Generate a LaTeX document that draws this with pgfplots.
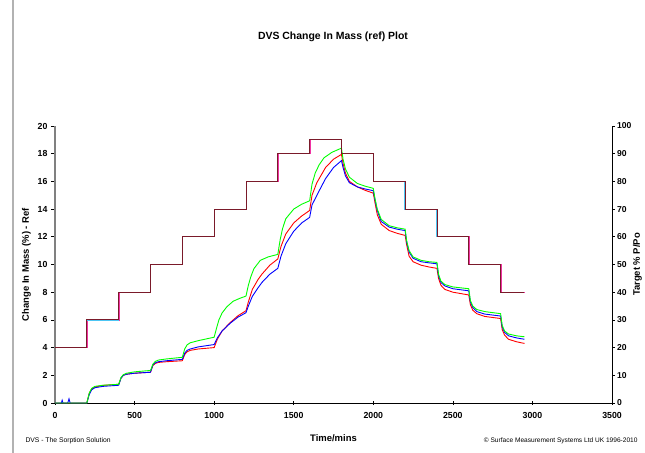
\documentclass[border=0pt]{standalone}
\usepackage{fontspec}
\setmainfont{Liberation Sans}
\usepackage{pgfplots}
\pgfplotsset{compat=1.18}
\definecolor{tgtdark}{HTML}{7A1A2A}
\definecolor{lgreen}{HTML}{00FF00}
\begin{document}
\begin{tikzpicture}[x=1bp,y=1bp]
\useasboundingbox (0,0) rectangle (645,453);
\draw[gray!60, line width=1.2bp] (13,0) -- (13,453);
\node[font=\bfseries\fontsize{10.5}{12}\selectfont] at (333,416) {DVS Change In Mass (ref) Plot};
\node[font=\fontsize{6.8}{8}\selectfont, anchor=west] at (22,12) {DVS - The Sorption Solution};
\node[font=\fontsize{6.6}{8}\selectfont, anchor=east] at (641,12) {\textcopyright{} Surface Measurement Systems Ltd UK 1996-2010};
\begin{axis}[
  at={(55bp,50bp)}, anchor=south west,
  scale only axis, width=557bp, height=277bp,
  xmin=0, xmax=3500, ymin=0, ymax=20,
  xtick={0,500,...,3500}, ytick={0,2,...,20},
  axis x line*=bottom, axis y line*=left,
  x axis line style={black, -, line width=0.8bp},
  y axis line style={gray, -, line width=1.6bp},
  tick style={black, line width=0.6bp},
  xtick align=center, ytick align=outside,
  major tick length=4bp,
  tick label style={font=\bfseries\fontsize{8.8}{10}\selectfont},
  xticklabel style={yshift=-4bp},
  /pgf/number format/assume math mode=true,
  /pgf/number format/1000 sep={},
  xlabel={\bfseries Time/mins},
  xlabel style={font=\fontsize{9.5}{11}\selectfont, at={(axis description cs:0.5,0)}, anchor=center, yshift=-35bp},
  ylabel={\bfseries Change In Mass (\%) - Ref},
  ylabel style={font=\fontsize{9.5}{11}\selectfont},
  clip=false,
]
\addplot[red, line width=0.9bp] coordinates {
(0,0)(200,0)(215,0.7)(230,1.0)(250,1.15)(300,1.27)(400,1.35)
(415,1.8)(430,2.0)(450,2.08)(500,2.15)(600,2.22)
(615,2.7)(630,2.85)(650,2.93)(700,2.98)(800,3.05)
(815,3.5)(830,3.7)(850,3.8)(900,3.9)(1000,4.0)
(1020,4.6)(1050,5.2)(1100,5.8)(1150,6.3)(1200,6.66)
(1215,7.3)(1240,8.2)(1275,8.9)(1300,9.3)(1350,9.95)(1400,10.4)
(1420,11.3)(1450,12.2)(1500,13.0)(1550,13.5)(1600,13.9)
(1615,15.0)(1645,15.9)(1700,17.0)(1750,17.6)(1800,17.95)
(1810,17.3)(1825,16.6)(1850,16.0)(1900,15.6)(1950,15.35)(2000,15.15)
(2010,14.5)(2025,13.6)(2050,12.9)(2100,12.45)(2150,12.25)(2200,12.1)
(2210,11.4)(2225,10.6)(2250,10.2)(2300,9.95)(2350,9.82)(2400,9.72)
(2410,9.0)(2425,8.5)(2450,8.2)(2500,8.0)(2600,7.8)
(2610,7.1)(2625,6.7)(2650,6.45)(2700,6.25)(2800,6.1)
(2810,5.3)(2825,4.9)(2850,4.6)(2900,4.42)(2950,4.3)
};
\addplot[blue, line width=0.9bp] coordinates {
(0,0)(40,0)(45,0.2)(50,0)(80,0)(88,0.3)(95,0)(200,0)
(215,0.6)(230,0.95)(250,1.1)(300,1.2)(400,1.28)
(415,1.8)(430,2.0)(450,2.08)(500,2.15)(600,2.22)
(615,2.75)(630,2.9)(650,2.98)(700,3.05)(800,3.15)
(815,3.6)(830,3.8)(850,3.9)(900,4.05)(1000,4.22)
(1020,4.7)(1050,5.2)(1100,5.75)(1150,6.2)(1200,6.52)
(1215,7.0)(1240,7.7)(1275,8.3)(1300,8.7)(1350,9.3)(1400,9.72)
(1420,10.6)(1450,11.5)(1500,12.4)(1550,13.0)(1600,13.4)
(1615,14.3)(1650,15.1)(1700,16.2)(1750,17.0)(1800,17.5)
(1810,17.0)(1825,16.4)(1850,15.9)(1900,15.6)(1950,15.45)(2000,15.33)
(2010,14.7)(2025,13.9)(2050,13.1)(2100,12.7)(2150,12.55)(2200,12.45)
(2210,11.6)(2225,10.9)(2250,10.45)(2300,10.2)(2350,10.12)(2400,10.05)
(2410,9.2)(2425,8.7)(2450,8.45)(2500,8.25)(2600,8.1)
(2610,7.3)(2625,6.9)(2650,6.6)(2700,6.42)(2800,6.28)
(2810,5.5)(2825,5.1)(2850,4.85)(2900,4.7)(2950,4.6)
};
\addplot[lgreen, line width=0.9bp] coordinates {
(0,0)(200,0)(215,0.7)(230,1.05)(250,1.2)(300,1.28)(400,1.35)
(415,1.85)(430,2.05)(450,2.15)(500,2.25)(600,2.35)
(615,2.8)(630,3.0)(650,3.1)(700,3.18)(800,3.3)
(815,3.9)(830,4.2)(850,4.35)(900,4.5)(1000,4.75)
(1015,5.4)(1030,6.0)(1050,6.5)(1080,6.95)(1120,7.35)(1160,7.55)(1200,7.72)
(1215,8.5)(1230,9.1)(1250,9.7)(1290,10.3)(1340,10.55)(1400,10.73)
(1415,11.8)(1430,12.6)(1450,13.3)(1500,14.0)(1550,14.35)(1600,14.6)
(1615,15.8)(1635,16.6)(1660,17.2)(1690,17.7)(1740,18.1)(1800,18.4)
(1810,17.6)(1825,16.9)(1850,16.3)(1900,15.85)(1950,15.65)(2000,15.5)
(2010,14.8)(2025,14.0)(2050,13.25)(2100,12.8)(2150,12.65)(2200,12.55)
(2210,11.7)(2225,11.0)(2250,10.55)(2300,10.3)(2350,10.2)(2400,10.15)
(2410,9.3)(2425,8.8)(2450,8.55)(2500,8.38)(2600,8.25)
(2610,7.4)(2625,7.0)(2650,6.75)(2700,6.6)(2800,6.45)
(2810,5.6)(2825,5.2)(2850,4.98)(2900,4.85)(2950,4.78)
};
\end{axis}
\begin{axis}[
  at={(55bp,50bp)}, anchor=south west,
  scale only axis, width=557bp, height=277bp,
  xmin=0, xmax=3500, ymin=0, ymax=100,
  ytick={0,10,...,100},
  axis x line=none, axis y line*=right,
  y axis line style={black, -, line width=0.8bp},
  tick style={black, line width=0.6bp},
  ytick align=outside, major tick length=3bp,
  tick label style={font=\bfseries\fontsize{8.6}{10}\selectfont},
  yticklabel style={xshift=-1.5bp},
  /pgf/number format/assume math mode=true,
  ylabel={\bfseries Target \% P/Po},
  ylabel style={font=\fontsize{9.5}{11}\selectfont, at={(axis description cs:1,0.5)}, anchor=center, rotate=0, yshift=-25.5bp},
  clip=false,
]
\addplot[magenta!80, line width=0.7bp] coordinates {
(2,20)(202,20)(202,30)(402,30)(402,40)(602,40)(602,50)(802,50)(802,60)(1002,60)(1002,70)(1202,70)(1202,80)(1402,80)(1402,90)(1602,90)(1602,95)(1802,95)(1802,90)(2002,90)(2002,80)(2202,80)(2202,70)(2402,70)(2402,60)(2602,60)(2602,50)(2802,50)(2802,40)(2952,40)
};
\addplot[cyan!70, line width=0.7bp] coordinates {
(0,20)(200,20)(200,30)(400,30)(400,40)(600,40)(600,50)(800,50)(800,60)(1000,60)(1000,70)(1200,70)(1200,80)(1400,80)(1400,90)(1600,90)(1600,95)(1798,95)(1798,90)(1998,90)(1998,80)(2198,80)(2198,70)(2398,70)(2398,60)(2598,60)(2598,50)(2798,50)(2798,40)(2948,40)
};
\addplot[tgtdark, line width=0.9bp] coordinates {
(0,20)(200,20)(200,30)(400,30)(400,40)(600,40)(600,50)(800,50)(800,60)(1000,60)(1000,70)(1200,70)(1200,80)(1400,80)(1400,90)(1600,90)(1600,95)(1800,95)(1800,90)(2000,90)(2000,80)(2200,80)(2200,70)(2400,70)(2400,60)(2600,60)(2600,50)(2800,50)(2800,40)(2950,40)
};
\end{axis}
\end{tikzpicture}
\end{document}
